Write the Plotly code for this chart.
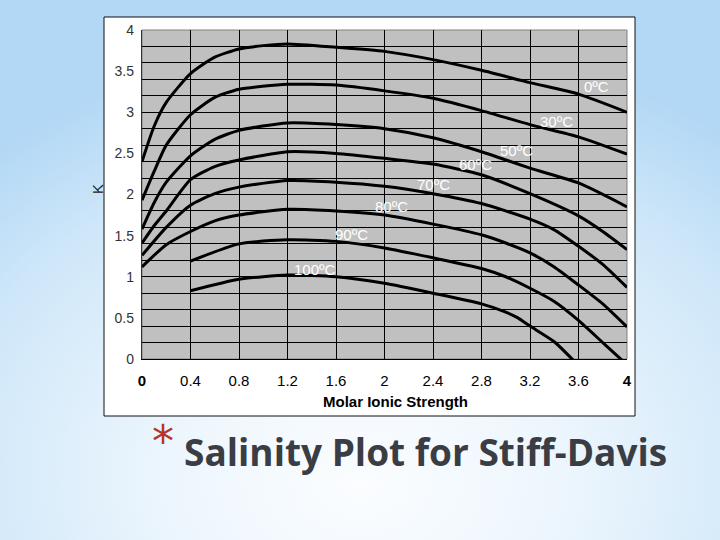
import base64
import plotly.graph_objects as go

# ---------------- data ----------------
x_0C = [0, 0.1, 0.2, 0.4, 0.6, 0.8, 1.0, 1.2, 1.6, 2.0, 2.4, 2.8, 3.2, 3.6, 4.0]
k_0C = [2.40, 2.83, 3.12, 3.47, 3.67, 3.77, 3.81, 3.83, 3.79, 3.74, 3.64, 3.51, 3.36, 3.22, 3.00]

x_30C = [0, 0.1, 0.2, 0.4, 0.6, 0.8, 1.2, 1.6, 2.0, 2.4, 2.8, 3.2, 3.6, 4.0]
k_30C = [1.93, 2.28, 2.60, 2.97, 3.18, 3.28, 3.34, 3.33, 3.26, 3.17, 3.02, 2.85, 2.70, 2.49]

x_50C = [0, 0.1, 0.2, 0.4, 0.6, 0.8, 1.2, 1.6, 2.0, 2.4, 2.8, 3.2, 3.6, 4.0]
k_50C = [1.58, 1.90, 2.15, 2.47, 2.67, 2.78, 2.87, 2.85, 2.80, 2.69, 2.52, 2.32, 2.14, 1.85]

x_60C = [0, 0.1, 0.2, 0.4, 0.6, 0.8, 1.2, 1.6, 2.0, 2.4, 2.8, 3.2, 3.6, 3.8, 4.0]
k_60C = [1.41, 1.62, 1.80, 2.18, 2.34, 2.42, 2.52, 2.50, 2.44, 2.37, 2.24, 2.01, 1.74, 1.55, 1.33]

x_70C = [0, 0.2, 0.4, 0.6, 0.8, 1.2, 1.6, 2.0, 2.4, 2.8, 3.2, 3.4, 3.6, 3.8, 4.0]
k_70C = [1.26, 1.60, 1.87, 2.01, 2.09, 2.17, 2.15, 2.10, 2.01, 1.89, 1.70, 1.57, 1.37, 1.15, 0.87]

x_80C = [0, 0.2, 0.4, 0.6, 0.8, 1.2, 1.6, 2.0, 2.4, 2.8, 3.0, 3.2, 3.4, 3.6, 3.8, 4.0]
k_80C = [1.12, 1.39, 1.55, 1.68, 1.75, 1.82, 1.80, 1.75, 1.64, 1.51, 1.41, 1.29, 1.12, 0.90, 0.67, 0.39]

x_90C = [0.4, 0.8, 1.2, 1.6, 2.0, 2.4, 2.8, 3.0, 3.2, 3.4, 3.6, 3.8, 4.0]
k_90C = [1.19, 1.40, 1.45, 1.43, 1.35, 1.23, 1.10, 1.00, 0.86, 0.70, 0.47, 0.20, -0.07]

x_100C = [0.4, 0.8, 1.2, 1.6, 2.0, 2.4, 2.8, 3.0, 3.1, 3.2, 3.4, 3.6]
k_100C = [0.83, 0.97, 1.02, 1.00, 0.92, 0.80, 0.67, 0.57, 0.50, 0.40, 0.21, -0.08]

series_names = ["0ºC", "30ºC", "50ºC", "60ºC", "70ºC", "80ºC", "90ºC", "100ºC"]
series_x = [x_0C, x_30C, x_50C, x_60C, x_70C, x_80C, x_90C, x_100C]
series_k = [k_0C, k_30C, k_50C, k_60C, k_70C, k_80C, k_90C, k_100C]

# curve label anchors (data units)
label_x = [3.75, 3.42, 3.09, 2.75, 2.40, 2.06, 1.73, 1.43]
label_y = [3.31, 2.89, 2.54, 2.36, 2.12, 1.85, 1.51, 1.09]

x_ticks = [0, 0.4, 0.8, 1.2, 1.6, 2, 2.4, 2.8, 3.2, 3.6, 4]
x_ticktext = ["<b>0</b>", "0.4", "0.8", "1.2", "1.6", "2", "2.4", "2.8", "3.2", "3.6", "<b>4</b>"]
y_ticks = [0, 0.5, 1, 1.5, 2, 2.5, 3, 3.5, 4]
y_ticktext = ["0", "0.5", "1", "1.5", "2", "2.5", "3", "3.5", "4"]

# ---------------- layout geometry ----------------
W, H = 720, 540
L, R, T, B = 142, 93, 30, 181
pw, ph = W - L - R, H - T - B


def px_x(px):
    return (px - L) / pw


def px_y(py):
    return (H - B - py) / ph


FONT = "Arial, Liberation Sans, sans-serif"

fig = go.Figure()
for name, xs, ks in zip(series_names, series_x, series_k):
    fig.add_trace(go.Scatter(
        x=xs, y=ks, mode="lines", name=name,
        line=dict(color="black", width=3, shape="spline", smoothing=0.6),
        showlegend=False, hoverinfo="skip"))
# empty trace anchoring the label axis
fig.add_trace(go.Scatter(x=[], y=[], yaxis="y2", showlegend=False))

for name, lx, ly in zip(series_names, label_x, label_y):
    fig.add_annotation(x=lx, y=ly, xref="x", yref="y", text=name, showarrow=False,
                       xanchor="center", yanchor="middle",
                       font=dict(family=FONT, size=15, color="white"))

# background gradient as svg image
svg = f'''<svg xmlns="http://www.w3.org/2000/svg" width="{W}" height="{H}" viewBox="0 0 {W} {H}" preserveAspectRatio="none">
<defs><radialGradient id="g" cx="0.52" cy="0.86" r="0.78" fx="0.5" fy="0.9">
<stop offset="0" stop-color="#fbfdff"/><stop offset="0.35" stop-color="#edf6fd"/>
<stop offset="0.75" stop-color="#cfe7f9"/><stop offset="1" stop-color="#b3d8f5"/>
</radialGradient></defs><rect width="{W}" height="{H}" fill="url(#g)"/></svg>'''
src = "data:image/svg+xml;base64," + base64.b64encode(svg.encode()).decode()
fig.add_layout_image(source=src, xref="paper", yref="paper", x=px_x(0), y=px_y(0),
                     sizex=W / pw, sizey=H / ph, sizing="stretch",
                     xanchor="left", yanchor="top", layer="below")

# white panel and grey plot area
fig.add_shape(type="rect", xref="paper", yref="paper", x0=px_x(104), x1=px_x(635),
              y0=px_y(416), y1=px_y(17), fillcolor="white",
              line=dict(color="#111111", width=1), layer="below")
fig.add_shape(type="rect", xref="paper", yref="paper", x0=0, x1=1, y0=0, y1=1,
              fillcolor="#c0c0c0", line=dict(color="#808080", width=1), layer="below")

# axis titles
fig.add_annotation(xref="paper", yref="paper", x=px_x(395), y=px_y(401),
                   xanchor="center", yanchor="middle",
                   text="<b>Molar Ionic Strength</b>", showarrow=False,
                   font=dict(family=FONT, size=15, color="black"))
fig.add_annotation(xref="paper", yref="paper", x=px_x(97), y=px_y(189),
                   xanchor="center", yanchor="middle",
                   text="K", textangle=-90, showarrow=False,
                   font=dict(family=FONT, size=15, color="#222222"))

# slide title
fig.add_annotation(xref="paper", yref="paper", x=px_x(163), y=px_y(441),
                   xanchor="center", yanchor="middle",
                   text="*", showarrow=False,
                   font=dict(family="DejaVu Sans", size=44, color="#b8342a"))
fig.add_annotation(xref="paper", yref="paper", x=px_x(425), y=px_y(451),
                   xanchor="center", yanchor="middle",
                   text="<b>Salinity Plot for Stiff-Davis</b>", showarrow=False,
                   font=dict(family="Open Sans", size=37, color="#3a3d44"))

fig.update_layout(
    width=W, height=H,
    margin=dict(l=L, r=R, t=T, b=B, pad=0),
    paper_bgcolor="#d8ebf9",
    plot_bgcolor="#c0c0c0",
    showlegend=False,
    xaxis=dict(range=[0, 4], tickmode="array", tickvals=x_ticks, ticktext=x_ticktext,
               showgrid=True, gridcolor="black", gridwidth=1,
               showline=True, linecolor="black", linewidth=1,
               zeroline=False, ticks="", ticklabelstandoff=8,
               tickfont=dict(family=FONT, size=15, color="black")),
    yaxis=dict(range=[0, 4], dtick=0.2, tick0=0, showticklabels=False,
               showgrid=True, gridcolor="black", gridwidth=1,
               showline=True, linecolor="#333333", linewidth=1,
               zeroline=False, ticks=""),
    yaxis2=dict(range=[0, 4], overlaying="y", side="left", tickmode="array",
                tickvals=y_ticks, ticktext=y_ticktext, showgrid=False,
                zeroline=False, showline=False, ticks="", ticklabelstandoff=7,
                tickfont=dict(family=FONT, size=14, color="#333333")),
)

fig.write_html("out.html", config={"displayModeBar": False},
               post_script="document.body.style.margin='0';document.body.style.overflow='hidden';")
